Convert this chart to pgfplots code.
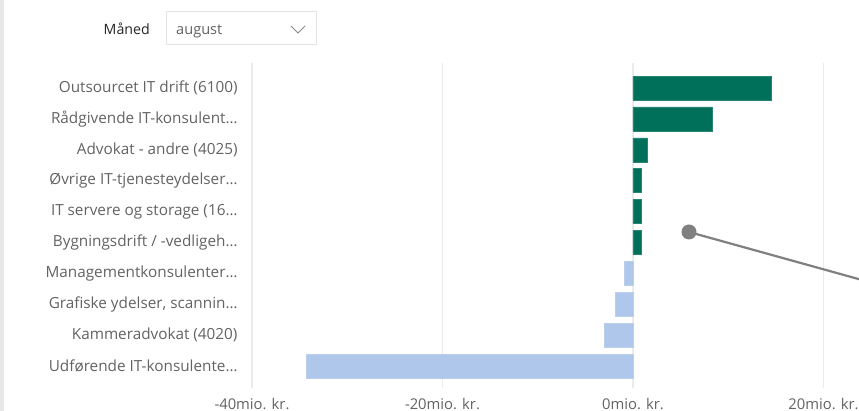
\documentclass[border=0pt]{standalone}
\usepackage{fontspec}
\setmainfont{Open Sans}
\usepackage{pgfplots}
\pgfplotsset{compat=1.18}
\definecolor{bargreen}{HTML}{00705A}
\definecolor{barblue}{HTML}{AFC7EA}
\definecolor{lblgray}{HTML}{636363}
\definecolor{gridgray}{HTML}{EBEBEB}
\definecolor{stripgray}{HTML}{E8E8E8}
\definecolor{boxgray}{HTML}{E3E3E3}
\definecolor{chevgray}{HTML}{8A8A8A}
\definecolor{pointgray}{HTML}{808080}

\begin{document}
\begin{tikzpicture}[x=1pt,y=1pt]
\useasboundingbox (0,0) rectangle (859,411);
\fill[white] (0,0) rectangle (859,411);
\fill[stripgray] (0,0) rectangle (4,411);

% slicer
\node[anchor=base east, font=\fontsize{14.2}{16}\selectfont, text=black!85, inner sep=0pt] at (150,376) {Måned};
\draw[boxgray, line width=1pt] (166.5,366) rectangle (316,399);
\node[anchor=base west, font=\fontsize{14.6}{16}\selectfont, text=lblgray, inner sep=0pt] at (176,376) {august};
\draw[chevgray, line width=0.8pt] (291,385) -- (298,378) -- (305,385);

\begin{axis}[
  at={(252pt,23pt)}, anchor=south west,
  scale only axis, width=607pt, height=325pt,
  xmin=-40, xmax=23.73, ymin=-0.81, ymax=9.71,
  y dir=reverse, clip=false,
  xbar, bar width=24pt, bar shift=0pt,
  axis line style={draw=none}, major tick style={draw=none},
  xmajorgrids, grid style={color=gridgray, line width=1.3pt},
  xtick={-40,-20,0,20},
  xticklabels={-40mio. kr.,-20mio. kr.,0mio. kr.,20mio. kr.},
  xticklabel style={font=\fontsize{14.8}{16}\selectfont, text=lblgray, anchor=base, inner sep=0pt, yshift=-21pt},
  ytick={0,...,9},
  yticklabels={Outsourcet IT drift (6100),Rådgivende IT-konsulent…,Advokat - andre (4025),Øvrige IT-tjenesteydelser…,IT servere og storage (16…,Bygningsdrift / -vedligeh…,Managementkonsulenter…,{Grafiske ydelser, scannin…},Kammeradvokat (4020),Udførende IT-konsulente…},
  yticklabel style={font=\fontsize{15.3}{17}\selectfont, text=lblgray, anchor=east, inner sep=0pt, xshift=-10pt},
]
\addplot[draw=bargreen!85!white, fill=bargreen, line width=0.5pt] coordinates {
  (14.5,0) (8.3,1) (1.47,2) (0.88,3) (0.86,4) (0.84,5)};
\addplot[draw=barblue!85!white, fill=barblue, line width=0.5pt] coordinates {
  (-0.94,6) (-1.88,7) (-3.0,8) (-34.3,9)};
\end{axis}

% pointer annotation
\draw[pointgray, line width=2.2pt] (689,179) -- (862,131);
\fill[pointgray] (689,179) circle (7.5);
\end{tikzpicture}
\end{document}
